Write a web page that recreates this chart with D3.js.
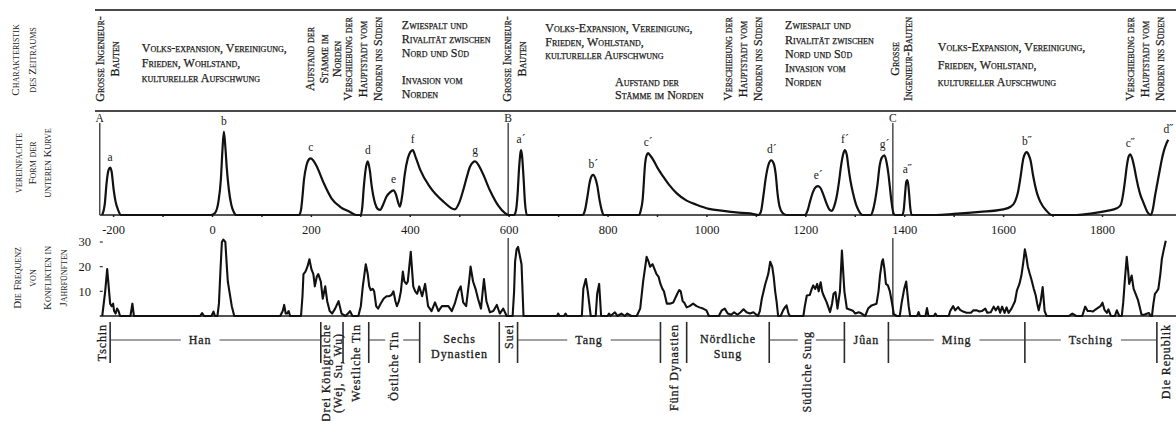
<!DOCTYPE html>
<html>
<head>
<meta charset="utf-8">
<script src="https://cdn.jsdelivr.net/npm/d3@7"></script>
<style>
body { margin: 0; background: #fff; }
svg text { font-family: "Liberation Serif", "Times New Roman", serif; fill: #1a1a1a; }
.sc { font-variant: small-caps; font-size: 11px; }
.hdr { font-variant: small-caps; font-size: 12px; stroke: #222; stroke-width: 0.25px; }
.dyn { font-size: 12px; letter-spacing: 0.9px; stroke: #222; stroke-width: 0.3px; }
.tick-lbl { font-size: 12.5px; }
.peak { font-size: 11.5px; }
</style>
</head>
<body>
<svg id="chart" width="1176" height="421"></svg>
<script>
// ---- data ----

// years with a tick on the time axis (labels every 200 years)
const axisYears = d3.range(-200, 1801, 100);

// simplified curve (upper panel), [year, relative height 0..100]
const upperCurve = [
    [-222, 0], [-217, 10], [-213, 32], [-209, 44], [-206, 46], [-203, 42], [-199, 25], [-195, 13], [-190, 5], [-184, 0],
    [-2, 0], [6, 2], [13, 13], [18, 35], [21, 62], [24, 81], [27, 66], [30, 45], [34, 25], [39, 10], [44, 3], [49, 0],
    [176, 0], [180, 5], [183, 18], [186, 34], [191, 48], [196, 54], [200, 55], [206, 52], [212, 47], [225, 32], [242, 16], [259, 8], [279, 3], [292, 0],
    [301, 0], [304, 8], [307, 27], [311, 45], [315, 52], [319, 44], [323, 28], [330, 11], [335, 6], [340, 5], [346, 10], [353, 18], [360, 22], [367, 24],
    [372, 20], [376, 13], [380, 8], [385, 20], [390, 40], [396, 55], [401, 61], [406, 63], [412, 56], [421, 44], [441, 27], [468, 13], [491, 5.5],
    [500, 12], [508, 24], [516, 38], [522, 47], [532, 52], [546, 42], [562, 24], [579, 9], [592, 2], [600, 0],
    [611, 0], [615, 5], [618, 20], [621, 45], [624, 61], [625, 63], [627, 58], [630, 37], [633, 12], [637, 0],
    [749, 0], [754, 4], [759, 17], [764, 32], [768, 38], [771, 39], [775, 36], [779, 29], [784, 14], [788, 5], [792, 0],
    [863, 0], [867, 4], [871, 15], [876, 50], [879, 58], [882, 60], [886, 58], [893, 53], [902, 45], [913, 37], [925, 29], [940, 21], [960, 14],
    [980, 10], [1005, 6], [1034, 4], [1060, 2.5], [1088, 1.5], [1105, 0],
    [1110, 3], [1115, 18], [1120, 36], [1125, 48], [1131, 53], [1136, 50], [1140, 40], [1144, 20], [1148, 8], [1154, 2], [1162, 0],
    [1199, 0], [1205, 5], [1210, 14], [1216, 23], [1221, 27], [1226, 28], [1231, 26], [1237, 19], [1243, 11], [1249, 5], [1253, 4], [1258, 8],
    [1263, 17], [1268, 32], [1272, 47], [1276, 58], [1280, 63], [1284, 58], [1287, 47], [1291, 34], [1296, 22], [1302, 11], [1307, 5], [1316, 0],
    [1332, 0], [1337, 5], [1341, 14], [1346, 30], [1350, 47], [1355, 56], [1360, 58], [1364, 52], [1368, 40], [1371, 27], [1374, 14], [1378, 2], [1381, 0],
    [1396, 0], [1399, 5], [1402, 22], [1404, 32], [1406, 34], [1408, 30], [1410, 20], [1412, 8], [1415, 0],
    [1464, 0], [1500, 1], [1553, 3], [1600, 5.5], [1615, 8], [1624, 13], [1630, 22], [1635, 36], [1641, 55], [1645, 60], [1648, 61], [1652, 58],
    [1656, 52], [1660, 40], [1665, 28], [1670, 19], [1675, 13], [1688, 4], [1698, 0],
    [1748, 0], [1780, 1.5], [1810, 4], [1830, 6.5], [1838, 10], [1843, 21], [1847, 35], [1850, 47], [1854, 57], [1857, 59], [1861, 55], [1865, 47],
    [1869, 37], [1873, 28], [1878, 19], [1883, 13], [1893, 2], [1899, 0], [1903, 6], [1907, 18], [1912, 31], [1917, 44], [1921, 54], [1925, 62],
    [1930, 69], [1934, 73]
];

// peak names, [label, year, height]
const peaks = [
    ["a", -206, 46], ["b", 24, 81], ["c", 200, 55], ["d", 315, 52], ["e", 367, 24], ["f", 406, 63], ["g", 532, 52],
    ["a´", 625, 63], ["b´", 771, 39], ["c´", 882, 60], ["d´", 1132, 53], ["e´", 1226, 28], ["f´", 1280, 63], ["g´", 1360, 58],
    ["a˝", 1406, 34], ["b˝", 1648, 61], ["c˝", 1857, 59], ["d˝", 1934, 73]
];

// conflicts per five years (lower panel), [year, count]
const lowerCurve = [
    [-222, 0], [-216, 10], [-212, 19], [-209, 12], [-206, 5], [-203, 4], [-200, 5], [-198, 2], [-195, 1], [-192, 3], [-189, 2], [-186, 0],
    [-165, 0], [-161, 5], [-158, 0],
    [-24, 0], [-20, 1.2], [-16, 0], [-1, 0], [3, 1.8], [6, 0],
    [11, 0], [14, 5], [17, 18], [20, 30], [23, 31], [27, 30], [30, 20], [32, 14], [36, 9], [40, 4], [45, 0],
    [138, 0], [143, 2], [146, 4.5], [149, 1], [152, 1], [155, 2], [158, 0],
    [180, 0], [183, 8], [185, 17], [189, 18], [193, 20], [197, 23], [201, 19], [205, 17], [208, 12], [212, 16], [215, 17], [220, 14], [224, 7],
    [229, 12], [233, 6], [238, 2], [243, 1], [249, 3], [256, 6], [262, 1], [270, 0], [275, 1], [279, 2], [284, 0], [296, 0],
    [301, 4], [305, 12], [311, 21], [315, 17], [318, 12], [321, 10.5], [325, 11], [328, 10], [332, 4], [336, 3], [341, 5], [347, 7], [353, 8],
    [358, 8], [363, 8.5], [367, 10], [371, 6], [374, 4], [378, 6], [382, 10], [386, 18], [389, 14], [393, 13], [396, 14], [402, 26], [407, 12],
    [411, 10], [415, 9], [419, 12], [425, 8], [431, 13], [437, 4], [444, 2], [451, 5.5], [458, 2], [465, 4], [472, 4], [478, 4], [485, 2],
    [491, 5], [498, 10], [503, 12], [508, 5.5], [514, 4], [520, 14], [523, 20], [528, 14], [533, 11], [538, 7], [544, 3], [550, 15], [555, 6],
    [562, 1.5], [569, 2], [576, 4.5], [582, 1], [589, 3], [596, 0],
    [608, 0], [611, 10], [613, 22], [616, 27], [619, 28], [623, 24], [626, 21], [630, 0],
    [698, 0], [700, 1], [703, 0], [712, 0], [715, 1], [718, 0],
    [748, 0], [751, 11], [756, 15], [760, 10], [766, 0], [776, 0], [779, 9], [783, 13], [787, 0],
    [800, 0], [803, 1], [806, 0], [815, 1.5], [820, 0], [828, 1], [835, 0], [840, 1], [848, 0], [859, 0],
    [866, 3], [872, 14], [879, 24], [883, 22], [886, 20], [891, 21], [895, 19], [899, 17], [903, 16], [907, 13], [911, 11], [914, 10], [920, 5],
    [926, 5], [933, 5.5], [941, 9], [945, 10.5], [948, 10], [952, 6], [955, 5.5], [960, 3.5], [966, 4], [973, 5], [980, 4], [986, 3.5], [993, 3],
    [1000, 2.3], [1005, 0], [1025, 0], [1031, 2.3], [1037, 3], [1043, 1], [1050, 0.5], [1056, 1.5], [1063, 0.5], [1069, 1.5], [1075, 2.7],
    [1081, 1.5], [1088, 1], [1095, 1.5], [1104, 0], [1108, 2], [1112, 7], [1119, 13], [1125, 17], [1129, 22], [1133, 20], [1136, 16],
    [1139, 10], [1142, 5.6], [1145, 0], [1150, 0], [1155, 2.3], [1159, 3.6], [1162, 4.3], [1166, 1], [1169, 0],
    [1196, 0], [1199, 4], [1203, 8.3], [1209, 8.5], [1213, 11], [1216, 12.4], [1220, 11], [1224, 13], [1227, 10], [1231, 13.7], [1234, 10],
    [1237, 8.3], [1243, 5.6], [1250, 1.6], [1254, 5], [1257, 9], [1261, 9.7], [1265, 3], [1270, 10], [1274, 26.5], [1279, 10], [1284, 3],
    [1291, 2.5], [1297, 2], [1301, 1], [1308, 1.5], [1314, 1], [1321, 0], [1327, 3], [1334, 4.3], [1344, 5], [1348, 10], [1351, 16.4],
    [1355, 22], [1357, 23], [1360, 19], [1363, 13], [1367, 12.4], [1371, 10], [1375, 5.6], [1379, 0.7], [1385, 0], [1391, 0], [1395, 5.6],
    [1400, 11], [1404, 14], [1409, 4], [1412, 0],
    [1426, 0], [1429, 1.6], [1432, 0], [1443, 0], [1446, 3.2], [1449, 0], [1460, 0], [1463, 1], [1466, 0], [1490, 0], [1493, 2], [1499, 4],
    [1503, 2.3], [1509, 3.6], [1513, 2.5], [1519, 1.8], [1526, 1.3], [1535, 1.3], [1540, 2.3], [1547, 2.3], [1552, 1.8], [1557, 2], [1564, 3],
    [1568, 1.3], [1575, 1.5], [1581, 3.8], [1585, 2.3], [1590, 3.8], [1594, 1.3], [1598, 3.8], [1603, 1.3], [1607, 3.5], [1611, 1.3],
    [1617, 3], [1624, 6], [1628, 10.4], [1633, 13], [1637, 16.4], [1641, 22], [1644, 27], [1647, 24], [1650, 20], [1654, 17], [1657, 15],
    [1662, 11], [1666, 8.3], [1669, 5], [1672, 2.3], [1676, 6], [1680, 11.7], [1684, 2], [1688, 0],
    [1733, 0], [1740, 1], [1748, 0], [1760, 0], [1766, 3.8], [1771, 2], [1776, 2], [1782, 1.8], [1786, 2.5], [1791, 3.2], [1797, 4],
    [1801, 5.4], [1805, 2.5], [1810, 1.3], [1813, 2.7], [1818, 0], [1826, 0], [1830, 2.3], [1835, 0], [1840, 0], [1843, 5.6], [1846, 14],
    [1850, 24], [1853, 18], [1855, 13], [1860, 16.4], [1864, 11], [1868, 9], [1873, 6.3], [1877, 3], [1880, 0.5], [1886, 0.5], [1890, 0.9],
    [1895, 1.2], [1898, 0], [1901, 0], [1904, 5], [1907, 9], [1911, 10], [1914, 11], [1918, 17], [1921, 23], [1925, 27], [1929, 30.5]
];

const lowerTicks = [10, 20, 30];

// cycle markers: [label, year, also drawn through the lower panel]
const markers = [["A", -227, false], ["B", 599, true], ["C", 1377, true]];

// dynasties: [name ("|" = line break), from, to, label style]
const dynasties = [
    ["Tschin", -221, -206, "v"],
    ["Han", -206, 220, "line"],
    ["Drei Königreiche|(Wej, Su, Wu)", 220, 265, "v"],
    ["Westliche Tin", 265, 317, "v"],
    ["Östliche Tin", 317, 420, "vline"],
    ["Sechs|Dynastien", 420, 581, "h"],
    ["Suei", 581, 618, "v"],
    ["Tang", 618, 907, "line"],
    ["Fünf Dynastien", 907, 960, "v"],
    ["Nördliche|Sung", 960, 1127, "h"],
    ["Südliche Sung", 1127, 1279, "vline"],
    ["Jûan", 1279, 1368, "line"],
    ["Ming", 1368, 1644, "line"],
    ["Tsching", 1644, 1911, "line"],
    ["Die Republik", 1911, 1949, "v"]
];
// labels that do not sit at their period's middle
const dynastyLabelYear = { "Han": -24, "Tschin": -223 };

// characteristics of each period (header band)
const headerVertical = [
    [-227, ["Große Ingenieur-", "Bauten"]],
    [198, ["Aufstand der", "Stämme im", "Norden"]],
    [275, ["Verschiebung der", "Hauptstadt vom", "Norden ins Süden"]],
    [597, ["Große Ingenieur-", "Bauten"]],
    [1044, ["Verschiebung der", "Hauptstadt vom", "Norden ins Süden"]],
    [1381, ["Große", "Ingenieur-Bauten"]],
    [1857, ["Verschiebung der", "Hauptstadt vom", "Norden ins Süden"]]
];
const headerBlocks = [
    [-142, ["Volks-expansion, Vereinigung,", "Frieden, Wohlstand,", "kultureller Aufschwung"]],
    [384, ["Zwiespalt und", "Rivalität zwischen", "Nord und Süd", "", "Invasion vom", "Norden"]],
    [674, ["Volks-Expansion, Vereinigung,", "Frieden, Wohlstand,", "kultureller Aufschwung"]],
    [815, ["Aufstand der", "Stämme im Norden"]],
    [1159, ["Zwiespalt und", "Rivalität zwischen", "Nord und Süd", "Invasion vom", "Norden"]],
    [1468, ["Volks-Expansion, Vereinigung,", "Frieden, Wohlstand,", "kultureller Aufschwung"]]
];
// first line centre and line step for each header block
const headerBlockLayout = [[48, 15], [25, 13.7], [28, 13.5], [82, 12.5], [25, 14.3], [47, 17.5]];

const sideLabels = [
    [["Charakteristik", "des Zeitraums"], 15, 60, 17],
    [["vereinfachte", "Form der", "unteren Kurve"], 18, 163, 14.5],
    [["Die  Frequenz", "von", "Konflikten in", "Jahrfünften"], 17, 278, 15.3]
];

// ---- drawing ----
const W = 1176;
const svg = d3.select('#chart');

const x = d3.scaleLinear().domain([0, 1800]).range([212, 1102]);
const yUp = d3.scaleLinear().domain([0, 100]).range([215, 112]);
const yLow = d3.scaleLinear().domain([0, 30]).range([316, 242]);
const xLeft = x(-227);

/**
 * Rotated (bottom-to-top) multi-line text centred on (cx, cy).
 */
function verticalText(cx, cy, lines, step, cls) {
    const t = svg.append('text')
        .attr('class', cls)
        .attr('text-anchor', 'middle')
        .attr('transform', `translate(${cx},${cy}) rotate(-90)`);
    lines.forEach((l, i) => {
        t.append('tspan').attr('x', 0).attr('y', i * step).attr('dy', '0.35em').text(l);
    });
    return t;
}

// header band rules
[10, 111].forEach(y => {
    svg.append('line')
        .attr('x1', 95).attr('x2', W).attr('y1', y).attr('y2', y)
        .attr('stroke', '#4a4a4a').attr('stroke-width', 2);
});

sideLabels.forEach(([lines, cx, cy, step]) => verticalText(cx, cy, lines, step, 'sc'));

headerVertical.forEach(([yr, lines]) => {
    let step = 15;
    if (lines[0] === 'Große') step = 12.5;
    if (lines[0] === 'Aufstand der') step = 13.5;
    verticalText(x(yr), 59, lines, step, 'hdr');
});

headerBlocks.forEach(([yr, lines], i) => {
    const [y0, step] = headerBlockLayout[i];
    const t = svg.append('text').attr('class', 'hdr');
    lines.forEach((l, j) => {
        t.append('tspan').attr('x', x(yr)).attr('y', y0 + j * step).attr('dy', '0.35em').text(l);
    });
});

// upper panel: time axis
const axis = svg.append('g')
    .attr('transform', `translate(0,${yUp(0)})`)
    .attr('font-size', 12.5)
    .call(d3.axisBottom(x)
        .tickValues(axisYears)
        .tickSize(2)
        .tickPadding(8)
        .tickFormat(d => d % 200 === 0 ? String(d) : ''));
axis.select('.domain').remove();
axis.selectAll('line').attr('stroke', '#222').attr('stroke-width', 1.5);
axis.selectAll('text').attr('class', 'tick-lbl');

[yUp(0), yLow(0)].forEach(y => {
    svg.append('line')
        .attr('x1', xLeft).attr('x2', W).attr('y1', y).attr('y2', y)
        .attr('stroke', '#1a1a1a').attr('stroke-width', 1.6);
});

// cycle markers A, B, C
markers.forEach(([lbl, yr, low]) => {
    const mx = x(yr);
    svg.append('text').attr('x', mx).attr('y', 121.5).attr('text-anchor', 'middle')
        .attr('font-size', 11.5).text(lbl);
    svg.append('line').attr('x1', mx).attr('x2', mx).attr('y1', 123).attr('y2', yUp(0))
        .attr('stroke', '#333').attr('stroke-width', 1.3);
    if (low) {
        svg.append('line').attr('x1', mx).attr('x2', mx).attr('y1', 238).attr('y2', yLow(0))
            .attr('stroke', '#333').attr('stroke-width', 1.3);
    }
});

// simplified curve
svg.append('path')
    .datum(upperCurve)
    .attr('fill', 'none')
    .attr('stroke', '#111')
    .attr('stroke-width', 2.2)
    .attr('stroke-linejoin', 'round')
    .attr('d', d3.line().x(d => x(d[0])).y(d => yUp(d[1])).curve(d3.curveMonotoneX));

svg.selectAll('text.peak')
    .data(peaks)
    .join('text')
    .attr('class', 'peak')
    .attr('x', d => x(d[1]))
    .attr('y', d => yUp(d[2]) - 7)
    .attr('text-anchor', 'middle')
    .text(d => d[0]);

// lower panel: conflict frequency
svg.append('path')
    .datum(lowerCurve)
    .attr('fill', 'none')
    .attr('stroke', '#111')
    .attr('stroke-width', 2.1)
    .attr('stroke-linejoin', 'round')
    .attr('d', d3.line().x(d => x(d[0])).y(d => yLow(d[1])));

lowerTicks.forEach(v => {
    svg.append('text').attr('class', 'tick-lbl')
        .attr('x', 91).attr('y', yLow(v)).attr('dy', '0.35em')
        .attr('text-anchor', 'end').text(v);
    svg.append('line').attr('x1', xLeft).attr('x2', xLeft + 3)
        .attr('y1', yLow(v)).attr('y2', yLow(v))
        .attr('stroke', '#333').attr('stroke-width', 1.2);
});

// dynasty band
const bandTop = 322, bandBot = 363, bandMid = 340, gap = 8;

dynasties.slice(1).forEach(d => {
    svg.append('line').attr('x1', x(d[1])).attr('x2', x(d[1]))
        .attr('y1', bandTop).attr('y2', bandBot)
        .attr('stroke', '#2a2a2a').attr('stroke-width', 1.6);
});

function bandLine(x1, x2) {
    svg.append('line').attr('x1', x1).attr('x2', x2).attr('y1', bandMid).attr('y2', bandMid)
        .attr('stroke', '#444').attr('stroke-width', 1.1);
}

dynasties.forEach(([name, from, to, style]) => {
    const lines = name.split('|');
    const cx = x(dynastyLabelYear[name] ?? (from + to) / 2);
    if (style === 'line' || style === 'h') {
        const t = svg.append('text').attr('class', 'dyn').attr('text-anchor', 'middle');
        lines.forEach((l, i) => {
            t.append('tspan').attr('x', cx).attr('y', (style === 'h' ? 343 : 344) + i * 15).text(l);
        });
        if (style === 'line') {
            const w = t.node().getComputedTextLength();
            bandLine(x(from), cx - w / 2 - gap);
            bandLine(cx + w / 2 + gap, x(to));
        }
    } else {
        const step = 11.5;
        const top = style === 'vline' ? 331 : 324;
        const t = verticalText(cx - (lines.length - 1) * step / 2, 0, lines, step, 'dyn');
        const len = t.select('tspan').node().getComputedTextLength();
        t.attr('transform', `translate(${cx - (lines.length - 1) * step / 2},${top + len / 2}) rotate(-90)`);
        if (style === 'vline') {
            bandLine(x(from), cx - gap - 1);
            bandLine(cx + gap + 1, x(to));
        }
    }
});
</script>
</body>
</html>
